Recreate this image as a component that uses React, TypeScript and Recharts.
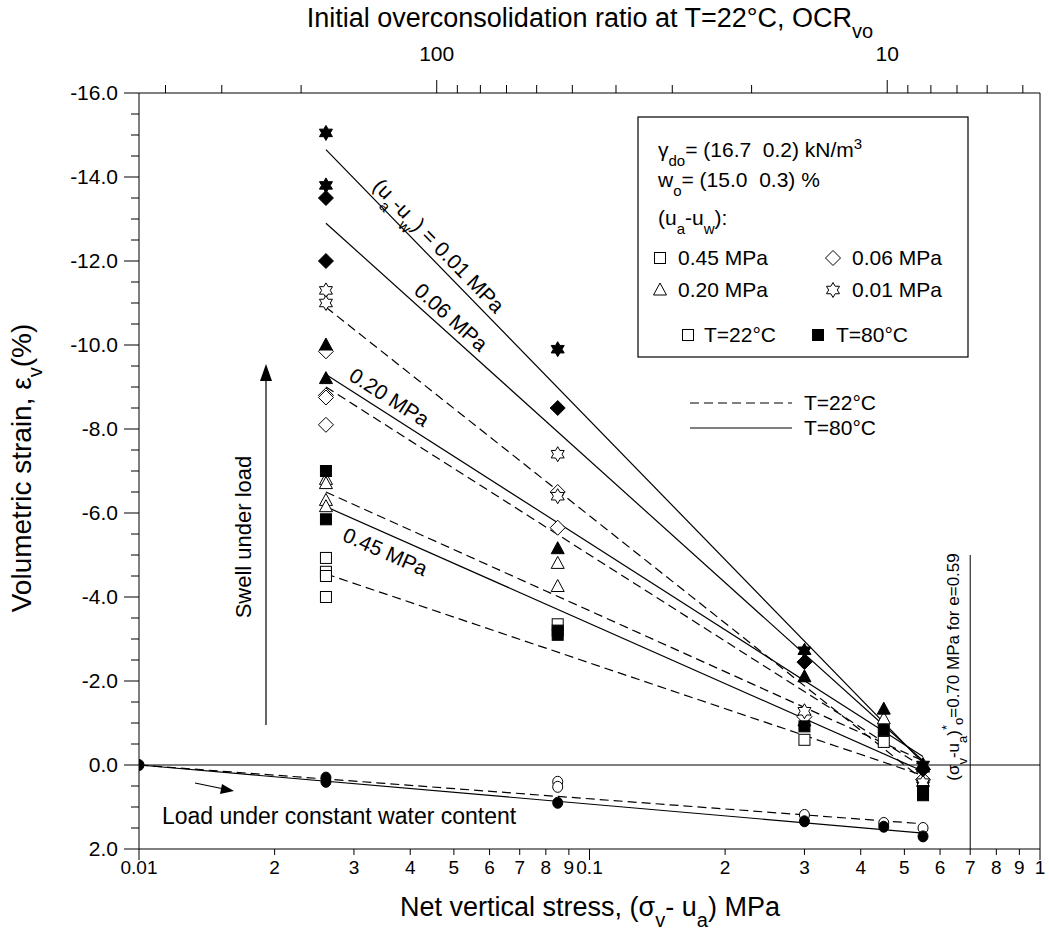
import React from "react"
import { ComposedChart, Line, Scatter, XAxis, YAxis, ReferenceLine } from "recharts"

const FONT = "'Liberation Sans', Arial, Helvetica, sans-serif"

// swelling tests: open = T=22°C, filled = T=80°C  [net stress MPa, strain %]
const sq22 = [[0.026, -4.93], [0.026, -4.6], [0.026, -4.5], [0.026, -4.0], [0.085, -3.35], [0.3, -0.6], [0.45, -0.55], [0.55, 0.45]]
const sq80 = [[0.026, -7.0], [0.026, -5.85], [0.085, -3.2], [0.085, -3.1], [0.3, -0.92], [0.45, -0.83], [0.55, 0.62], [0.55, 0.72]]
const tri22 = [[0.026, -6.8], [0.026, -6.7], [0.026, -6.3], [0.026, -6.15], [0.085, -4.8], [0.085, -4.25], [0.3, -1.05], [0.45, -1.1], [0.55, 0.3]]
const tri80 = [[0.026, -10.0], [0.026, -9.2], [0.085, -5.15], [0.3, -2.1], [0.45, -1.33], [0.55, 0.05]]
const dia22 = [[0.026, -9.85], [0.026, -8.8], [0.026, -8.75], [0.026, -8.1], [0.085, -6.5], [0.085, -5.65], [0.3, -1.15], [0.55, 0.35]]
const dia80 = [[0.026, -13.5], [0.026, -12.0], [0.085, -8.5], [0.3, -2.45], [0.55, 0.1]]
const star22 = [[0.026, -11.3], [0.026, -11.0], [0.085, -7.4], [0.085, -6.4], [0.3, -1.28], [0.55, 0.42]]
const star80 = [[0.026, -15.05], [0.026, -13.8], [0.085, -9.9], [0.3, -2.72], [0.55, 0.0]]
// loading under constant water content
const circ22 = [[0.085, 0.4], [0.085, 0.52], [0.3, 1.19], [0.45, 1.38], [0.55, 1.5]]
const circ80 = [[0.01, 0], [0.026, 0.3], [0.026, 0.4], [0.085, 0.9], [0.3, 1.34], [0.45, 1.47], [0.55, 1.7]]

// fitted lines (end points)
const fit80_001 = [[0.026, -14.65], [0.55, -0.05]]
const fit80_006 = [[0.026, -12.9], [0.55, -0.1]]
const fit80_020 = [[0.026, -9.3], [0.55, -0.2]]
const fit80_045 = [[0.026, -6.15], [0.55, 0.15]]
const fit22_001 = [[0.026, -10.9], [0.55, 0.35]]
const fit22_006 = [[0.026, -9.0], [0.55, 0.05]]
const fit22_020 = [[0.026, -6.5], [0.55, -0.1]]
const fit22_045 = [[0.026, -4.55], [0.55, 0.25]]
const load22 = [[0.01, 0], [0.55, 1.4]]
const load80 = [[0.01, 0], [0.55, 1.62]]

const stressTicks = [0.01, 0.02, 0.03, 0.04, 0.05, 0.06, 0.07, 0.08, 0.09, 0.1, 0.2, 0.3, 0.4, 0.5, 0.6, 0.7, 0.8, 0.9, 1]
const stressLabels = ["0.01", "2", "3", "4", "5", "6", "7", "8", "9", "0.1", "2", "3", "4", "5", "6", "7", "8", "9", "1"]
const strainLabelled = [-16, -14, -12, -10, -8, -6, -4, -2, 0, 2]
const strainTicks = Array.from({ length: 37 }, (_, i) => -16 + i * 0.5)
const ocrTicks = [400, 300, 200, 100, 90, 80, 70, 60, 50, 40, 30, 20, 10, 9, 8, 7, 6, 5]
const ocrLabelled = [100, 10]
const OCR_REF = 4.58 // stress (MPa) for OCR = 1

const toPts = (a: number[][]) => a.map(([x, y]) => ({ x, y }))

// plot geometry (must match chart margins)
const L = 139, R = 1040, T = 93, B = 849
const px = (x: number) => L + ((R - L) * Math.log10(x / 0.01)) / 2
const py = (y: number) => T + ((B - T) * (y + 16)) / 18

type Kind = "square" | "triangle" | "diamond" | "star" | "circle"

function Mark({ cx, cy, kind, filled }: { cx: number; cy: number; kind: Kind; filled: boolean }) {
  const p = { fill: filled ? "#000" : "#fff", stroke: "#000", strokeWidth: 1 }
  if (kind === "square") return <rect x={cx - 5.5} y={cy - 5.5} width={11} height={11} {...p} />
  if (kind === "triangle")
    return <polygon points={`${cx},${cy - 7} ${cx + 6.5},${cy + 5} ${cx - 6.5},${cy + 5}`} {...p} />
  if (kind === "diamond")
    return <polygon points={`${cx},${cy - 7.5} ${cx + 7.5},${cy} ${cx},${cy + 7.5} ${cx - 7.5},${cy}`} {...p} />
  if (kind === "circle") return <ellipse cx={cx} cy={cy} rx={5} ry={5.5} {...p} />
  const pts: string[] = []
  for (let k = 0; k < 12; k++) {
    const r = k % 2 === 0 ? 7.5 : 7.5 / Math.sqrt(3)
    const a = ((-90 + k * 30) * Math.PI) / 180
    pts.push(`${cx + r * Math.cos(a)},${cy + r * Math.sin(a)}`)
  }
  return <polygon points={pts.join(" ")} {...p} />
}

const series: { data: number[][]; kind: Kind; filled: boolean }[] = [
  { data: sq22, kind: "square", filled: false },
  { data: tri22, kind: "triangle", filled: false },
  { data: dia22, kind: "diamond", filled: false },
  { data: star22, kind: "star", filled: false },
  { data: circ22, kind: "circle", filled: false },
  { data: sq80, kind: "square", filled: true },
  { data: tri80, kind: "triangle", filled: true },
  { data: dia80, kind: "diamond", filled: true },
  { data: star80, kind: "star", filled: true },
  { data: circ80, kind: "circle", filled: true },
]

const lines: { data: number[][]; dashed: boolean }[] = [
  { data: fit22_001, dashed: true },
  { data: fit22_006, dashed: true },
  { data: fit22_020, dashed: true },
  { data: fit22_045, dashed: true },
  { data: load22, dashed: true },
  { data: fit80_001, dashed: false },
  { data: fit80_006, dashed: false },
  { data: fit80_020, dashed: false },
  { data: fit80_045, dashed: false },
  { data: load80, dashed: false },
]

function StressTick(props: any) {
  const { x, y, payload } = props
  const i = stressTicks.indexOf(payload.value)
  const major = i === 0 || i === 9 || i === 18
  return (
    <g>
      <line x1={x} x2={x} y1={y} y2={y + (major ? 11 : 6)} stroke="#000" />
      <text x={x} y={y + 25} textAnchor="middle" fontSize={19} fontFamily={FONT} fill="#000">
        {stressLabels[i]}
      </text>
    </g>
  )
}

function OcrTick(props: any) {
  const { x, y, payload } = props
  const ocr = Math.round(OCR_REF / payload.value)
  const major = ocrLabelled.includes(ocr)
  return (
    <g>
      <line x1={x} x2={x} y1={y} y2={y - (major ? 13 : 8)} stroke="#000" />
      {major && (
        <text x={x} y={y - 32} textAnchor="middle" fontSize={21} fontFamily={FONT} fill="#000">
          {ocr}
        </text>
      )}
    </g>
  )
}

function StrainTick(props: any) {
  const { x, y, payload } = props
  const v = payload.value
  const major = strainLabelled.includes(v)
  return (
    <g>
      <line x1={x} x2={x - (major ? 15 : 8)} y1={y} y2={y} stroke="#000" />
      {major && (
        <text x={x - 21} y={y} dy="0.35em" textAnchor="end" fontSize={21} fontFamily={FONT} fill="#000">
          {v.toFixed(1)}
        </text>
      )}
    </g>
  )
}

function LineLabel({ line, at, offset, children }: { line: number[][]; at: number; offset: number; children: React.ReactNode }) {
  const [[x0, y0], [x1, y1]] = line
  const ax = px(x0), ay = py(y0), bx = px(x1), by = py(y1)
  const ang = Math.atan2(by - ay, bx - ax)
  const t = (Math.log10(at) - Math.log10(x0)) / (Math.log10(x1) - Math.log10(x0))
  const yv = y0 + t * (y1 - y0)
  const cx = px(at) + offset * Math.sin(ang)
  const cy = py(yv) - offset * Math.cos(ang)
  return (
    <text x={cx} y={cy} dy="0.35em" textAnchor="middle" fontSize={21} fontFamily={FONT}
      transform={`rotate(${(ang * 180) / Math.PI}, ${cx}, ${cy})`}>
      {children}
    </text>
  )
}

const Sub = ({ children, size = 15 }: { children: React.ReactNode; size?: number }) => (
  <tspan baselineShift="sub" fontSize={size}>{children}</tspan>
)
const Sup = ({ children, size = 15 }: { children: React.ReactNode; size?: number }) => (
  <tspan baselineShift="super" fontSize={size}>{children}</tspan>
)

function Annotations() {
  const BL = 638, BT = 117, BW = 330, BH = 240
  const sp = "\u00a0\u00a0"
  return (
    <svg width={1049} height={947} style={{ position: "absolute", left: 0, top: 0, pointerEvents: "none" }}
      fontFamily={FONT} fill="#000">
      <text x={590} y={27} textAnchor="middle" fontSize={27}>
        Initial overconsolidation ratio at T=22°C, OCR<Sub size={20}>vo</Sub>
      </text>
      <text x={590} y={916} textAnchor="middle" fontSize={27}>
        Net vertical stress, (σ<Sub size={20}>v</Sub>- u<Sub size={20}>a</Sub>) MPa
      </text>
      <text x={0} y={0} textAnchor="middle" fontSize={28} transform="translate(31, 468) rotate(-90)">
        Volumetric strain, ε<Sub size={20}>v</Sub>(%)
      </text>

      <LineLabel line={fit80_001} at={0.044} offset={14}>
        (u<Sub>a</Sub>-u<Sub>w</Sub>) = 0.01 MPa
      </LineLabel>
      <LineLabel line={fit80_006} at={0.047} offset={14}>0.06 MPa</LineLabel>
      <LineLabel line={fit80_020} at={0.0345} offset={15}>0.20 MPa</LineLabel>
      <LineLabel line={fit80_045} at={0.0365} offset={-17}>0.45 MPa</LineLabel>

      {/* swell arrow */}
      <line x1={266} y1={725} x2={266} y2={378} stroke="#000" strokeWidth={1.2} />
      <polygon points="266,364 260,381 272,381" fill="#000" />
      <text x={0} y={0} textAnchor="middle" fontSize={22} transform="translate(251, 537) rotate(-90)">
        Swell under load
      </text>

      {/* load arrow */}
      <line x1={195} y1={783} x2={224} y2={789} stroke="#000" strokeWidth={1.2} />
      <polygon points="234,791 220,794 222,784" fill="#000" />
      <text x={162} y={824} fontSize={23}>Load under constant water content</text>

      <text x={0} y={0} textAnchor="middle" fontSize={17} transform={`translate(${px(0.7) - 11}, 667) rotate(-90)`}>
        (σ<Sub size={13}>v</Sub>-u<Sub size={13}>a</Sub>)<tspan dy={-8} fontSize={13}>*</tspan><tspan dy={12} fontSize={13}>o</tspan>
        <tspan dy={-4}>=0.70 MPa for e=0.59</tspan>
      </text>

      {/* legend box */}
      <rect x={BL} y={BT} width={BW} height={BH} fill="#fff" stroke="#000" strokeWidth={1.2} />
      <text x={BL + 20} y={BT + 40} fontSize={21}>
        γ<Sub>do</Sub>= (16.7{sp}0.2) kN/m<Sup>3</Sup>
      </text>
      <text x={BL + 20} y={BT + 70} fontSize={21}>
        w<Sub>o</Sub>= (15.0{sp}0.3) %
      </text>
      <text x={BL + 20} y={BT + 108} fontSize={21}>
        (u<Sub>a</Sub>-u<Sub>w</Sub>):
      </text>
      <Mark cx={BL + 22} cy={BT + 141} kind="square" filled={false} />
      <text x={BL + 40} y={BT + 148} fontSize={21}>0.45 MPa</text>
      <Mark cx={BL + 195} cy={BT + 141} kind="diamond" filled={false} />
      <text x={BL + 214} y={BT + 148} fontSize={21}>0.06 MPa</text>
      <Mark cx={BL + 22} cy={BT + 173} kind="triangle" filled={false} />
      <text x={BL + 40} y={BT + 180} fontSize={21}>0.20 MPa</text>
      <Mark cx={BL + 195} cy={BT + 173} kind="star" filled={false} />
      <text x={BL + 214} y={BT + 180} fontSize={21}>0.01 MPa</text>
      <Mark cx={BL + 50} cy={BT + 218} kind="square" filled={false} />
      <text x={BL + 66} y={BT + 225} fontSize={21}>T=22°C</text>
      <Mark cx={BL + 180} cy={BT + 218} kind="square" filled={true} />
      <text x={BL + 198} y={BT + 225} fontSize={21}>T=80°C</text>

      {/* line style legend */}
      <line x1={690} x2={792} y1={403} y2={403} stroke="#000" strokeDasharray="9 5" />
      <text x={804} y={410} fontSize={21}>T=22°C</text>
      <line x1={690} x2={792} y1={428} y2={428} stroke="#000" />
      <text x={804} y={435} fontSize={21}>T=80°C</text>
    </svg>
  )
}

export default function App() {
  return (
    <div style={{ position: "absolute", left: 0, top: 0, width: 1049, height: 947, background: "#fff" }}>
      <ComposedChart width={1049} height={947} margin={{ top: 63, right: 9, bottom: 68, left: 0 }}>
        <XAxis xAxisId="s" dataKey="x" type="number" scale="log" domain={[0.01, 1]} allowDataOverflow
          ticks={stressTicks} interval={0} tickSize={0} tickMargin={0} tickLine={false}
          tick={StressTick} height={30} axisLine={{ stroke: "#000" }} />
        <XAxis xAxisId="ocr" orientation="top" dataKey="x" type="number" scale="log" domain={[0.01, 1]} allowDataOverflow
          ticks={ocrTicks.map((o) => OCR_REF / o)} interval={0} tickSize={0} tickMargin={0} tickLine={false}
          tick={OcrTick} height={30} axisLine={{ stroke: "#000" }} />
        <YAxis yAxisId="e" dataKey="y" type="number" domain={[-16, 2]} reversed allowDataOverflow
          ticks={strainTicks} interval={0} tickSize={0} tickMargin={0} tickLine={false}
          tick={StrainTick} width={139} axisLine={{ stroke: "#000" }} />
        <ReferenceLine xAxisId="s" yAxisId="e" x={1} stroke="#000" />
        <ReferenceLine xAxisId="s" yAxisId="e" y={0} stroke="#000" />
        <ReferenceLine xAxisId="s" yAxisId="e" stroke="#000"
          segment={[{ x: 0.7, y: -5 }, { x: 0.7, y: 2 }]} />
        {lines.map((l, i) => (
          <Line key={`l${i}`} xAxisId="s" yAxisId="e" data={toPts(l.data)} dataKey="y" type="linear"
            stroke="#000" strokeWidth={1.2} strokeDasharray={l.dashed ? "9 5" : undefined}
            dot={false} activeDot={false} isAnimationActive={false} />
        ))}
        {series.map((s, i) => (
          <Scatter key={`s${i}`} xAxisId="s" yAxisId="e" data={toPts(s.data)} dataKey="y"
            isAnimationActive={false}
            shape={(p: any) => <Mark cx={p.cx} cy={p.cy} kind={s.kind} filled={s.filled} />} />
        ))}
      </ComposedChart>
      <Annotations />
    </div>
  )
}
